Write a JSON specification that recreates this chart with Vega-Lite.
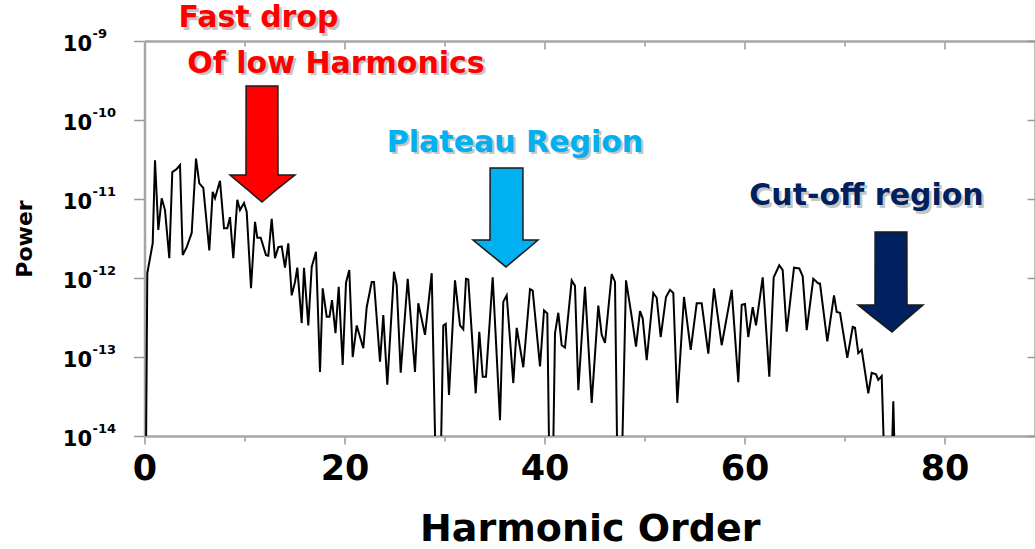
{
  "$schema": "https://vega.github.io/schema/vega-lite/v6.json",
  "width": 890.5,
  "height": 395,
  "autosize": "none",
  "padding": {"left": 144.5, "top": 41, "right": 0, "bottom": 113},
  "background": "white",
  "config": {"view": {"stroke": null}, "font": "DejaVu Sans"},
  "resolve": {"axis": {"x": "independent", "y": "independent"}},
  "datasets": {
    "spectrum": [
      {"h": 0.05, "p": 1e-16}, {"h": 0.28, "p": 1.15e-12}, {"h": 0.82, "p": 2.75e-12}, {"h": 1.05, "p": 3.09e-11},
      {"h": 1.38, "p": 4.07e-12}, {"h": 1.72, "p": 1.02e-11}, {"h": 2.05, "p": 7.24e-12}, {"h": 2.48, "p": 1.78e-12},
      {"h": 2.78, "p": 2.19e-11}, {"h": 3.22, "p": 2.40e-11}, {"h": 3.55, "p": 2.69e-11}, {"h": 3.82, "p": 1.95e-12},
      {"h": 4.22, "p": 2.46e-12}, {"h": 4.72, "p": 3.72e-12}, {"h": 5.15, "p": 3.24e-11}, {"h": 5.48, "p": 1.58e-11},
      {"h": 5.88, "p": 1.38e-11}, {"h": 6.48, "p": 2.24e-12}, {"h": 6.82, "p": 1.23e-11}, {"h": 7.05, "p": 1.02e-11},
      {"h": 7.55, "p": 1.70e-11}, {"h": 7.95, "p": 4.27e-12}, {"h": 8.28, "p": 4.27e-12}, {"h": 8.55, "p": 5.89e-12},
      {"h": 8.88, "p": 1.78e-12}, {"h": 9.28, "p": 9.77e-12}, {"h": 9.55, "p": 7.24e-12}, {"h": 9.95, "p": 8.91e-12},
      {"h": 10.22, "p": 6.92e-12}, {"h": 10.65, "p": 7.41e-13}, {"h": 11.05, "p": 5.13e-12}, {"h": 11.28, "p": 3.24e-12},
      {"h": 11.62, "p": 3.24e-12}, {"h": 12.15, "p": 1.95e-12}, {"h": 12.38, "p": 1.91e-12}, {"h": 12.72, "p": 5.62e-12},
      {"h": 13.05, "p": 1.78e-12}, {"h": 13.38, "p": 2.46e-12}, {"h": 13.72, "p": 2.51e-12}, {"h": 14.05, "p": 1.35e-12},
      {"h": 14.38, "p": 2.75e-12}, {"h": 14.72, "p": 6.03e-13}, {"h": 15.05, "p": 8.91e-13}, {"h": 15.28, "p": 1.35e-12},
      {"h": 15.72, "p": 2.69e-13}, {"h": 15.95, "p": 1.35e-12}, {"h": 16.38, "p": 2.51e-13}, {"h": 16.72, "p": 1.38e-12},
      {"h": 17.15, "p": 2.14e-12}, {"h": 17.55, "p": 6.46e-14}, {"h": 17.82, "p": 7.41e-13}, {"h": 18.22, "p": 3.24e-13},
      {"h": 18.5, "p": 3.24e-13}, {"h": 18.75, "p": 5.25e-13}, {"h": 19.1, "p": 2.00e-13}, {"h": 19.42, "p": 7.76e-13},
      {"h": 19.82, "p": 7.94e-14}, {"h": 20.15, "p": 8.71e-13}, {"h": 20.48, "p": 1.26e-12}, {"h": 20.82, "p": 1.00e-13},
      {"h": 21.22, "p": 2.51e-13}, {"h": 21.88, "p": 1.29e-13}, {"h": 22.22, "p": 4.27e-13}, {"h": 22.72, "p": 8.91e-13},
      {"h": 22.95, "p": 8.91e-13}, {"h": 23.55, "p": 8.71e-14}, {"h": 23.88, "p": 3.39e-13}, {"h": 24.28, "p": 4.47e-14},
      {"h": 24.95, "p": 1.20e-12}, {"h": 25.22, "p": 8.13e-13}, {"h": 25.62, "p": 6.31e-14}, {"h": 26.32, "p": 9.77e-13},
      {"h": 27.05, "p": 6.46e-14}, {"h": 27.38, "p": 4.79e-13}, {"h": 28.05, "p": 1.91e-13}, {"h": 28.72, "p": 1.15e-12},
      {"h": 29.38, "p": 1e-16}, {"h": 29.88, "p": 2.51e-13}, {"h": 30.12, "p": 2.63e-13}, {"h": 30.45, "p": 3.31e-14},
      {"h": 31.05, "p": 9.33e-13}, {"h": 31.55, "p": 2.51e-13}, {"h": 31.88, "p": 2.24e-13}, {"h": 32.15, "p": 9.77e-13},
      {"h": 32.38, "p": 9.55e-13}, {"h": 33.12, "p": 3.47e-14}, {"h": 33.48, "p": 2.09e-13}, {"h": 33.82, "p": 5.62e-14},
      {"h": 34.15, "p": 5.62e-14}, {"h": 34.82, "p": 1.02e-12}, {"h": 35.55, "p": 1.58e-14}, {"h": 35.88, "p": 5.01e-13},
      {"h": 36.22, "p": 6.03e-13}, {"h": 36.88, "p": 4.68e-14}, {"h": 37.22, "p": 2.34e-13}, {"h": 37.88, "p": 7.41e-14},
      {"h": 38.55, "p": 7.24e-13}, {"h": 38.82, "p": 6.92e-13}, {"h": 39.55, "p": 7.59e-14}, {"h": 39.95, "p": 3.89e-13},
      {"h": 40.28, "p": 3.55e-13}, {"h": 40.65, "p": 1e-16}, {"h": 41.05, "p": 2.00e-13}, {"h": 41.38, "p": 3.63e-13},
      {"h": 41.72, "p": 1.41e-13}, {"h": 42.05, "p": 1.32e-13}, {"h": 42.72, "p": 9.33e-13}, {"h": 43.05, "p": 7.94e-13},
      {"h": 43.38, "p": 3.80e-14}, {"h": 44.05, "p": 7.76e-13}, {"h": 44.72, "p": 2.63e-14}, {"h": 45.38, "p": 4.47e-13},
      {"h": 45.72, "p": 1.91e-13}, {"h": 46.05, "p": 1.51e-13}, {"h": 46.72, "p": 1.12e-12}, {"h": 47.05, "p": 8.91e-13},
      {"h": 47.45, "p": 1e-16}, {"h": 48.15, "p": 9.33e-13}, {"h": 48.72, "p": 3.24e-13}, {"h": 49.15, "p": 1.35e-13},
      {"h": 49.55, "p": 3.80e-13}, {"h": 49.82, "p": 3.09e-13}, {"h": 50.22, "p": 9.12e-14}, {"h": 50.88, "p": 6.46e-13},
      {"h": 51.22, "p": 5.62e-13}, {"h": 51.62, "p": 1.78e-13}, {"h": 52.15, "p": 5.75e-13}, {"h": 52.55, "p": 7.08e-13},
      {"h": 52.88, "p": 6.46e-13}, {"h": 53.28, "p": 2.63e-14}, {"h": 53.95, "p": 5.75e-13}, {"h": 54.62, "p": 1.23e-13},
      {"h": 55.22, "p": 4.79e-13}, {"h": 55.72, "p": 4.79e-13}, {"h": 56.38, "p": 1.10e-13}, {"h": 56.95, "p": 7.41e-13},
      {"h": 57.72, "p": 1.41e-13}, {"h": 58.72, "p": 7.08e-13}, {"h": 59.38, "p": 4.79e-14}, {"h": 59.72, "p": 4.57e-13},
      {"h": 60.05, "p": 4.68e-13}, {"h": 60.38, "p": 1.78e-13}, {"h": 60.82, "p": 4.27e-13}, {"h": 61.15, "p": 2.51e-13},
      {"h": 61.82, "p": 1.02e-12}, {"h": 62.48, "p": 5.62e-14}, {"h": 62.92, "p": 1.02e-12}, {"h": 63.48, "p": 1.45e-12},
      {"h": 63.82, "p": 1.26e-12}, {"h": 64.22, "p": 2.09e-13}, {"h": 64.95, "p": 1.35e-12}, {"h": 65.48, "p": 1.32e-12},
      {"h": 65.82, "p": 1.05e-12}, {"h": 66.22, "p": 2.19e-13}, {"h": 66.88, "p": 9.77e-13}, {"h": 67.38, "p": 8.51e-13},
      {"h": 67.55, "p": 8.51e-13}, {"h": 68.28, "p": 1.58e-13}, {"h": 68.95, "p": 6.03e-13}, {"h": 69.22, "p": 3.72e-13},
      {"h": 69.55, "p": 3.63e-13}, {"h": 70.28, "p": 9.77e-14}, {"h": 70.82, "p": 2.40e-13}, {"h": 71.05, "p": 2.34e-13},
      {"h": 71.38, "p": 1.12e-13}, {"h": 71.72, "p": 1.23e-13}, {"h": 72.38, "p": 3.47e-14}, {"h": 72.72, "p": 6.31e-14},
      {"h": 73.15, "p": 6.03e-14}, {"h": 73.38, "p": 5.13e-14}, {"h": 73.72, "p": 5.75e-14}, {"h": 74.38, "p": 1e-16},
      {"h": 74.88, "p": 2.75e-14}, {"h": 75.38, "p": 1e-16}
    ],
    "arrows": [
      {"a": "red", "h": 8.55, "y": 2.01e-11, "y2": 2.01e-11},
      {"a": "red", "h": 10.15, "y": 2.01e-11, "y2": 1.36e-11},
      {"a": "red", "h": 10.16, "y": 2.69e-10, "y2": 1.36e-11},
      {"a": "red", "h": 11.75, "y": 2.69e-10, "y2": 9.16e-12},
      {"a": "red", "h": 13.34, "y": 2.69e-10, "y2": 1.36e-11},
      {"a": "red", "h": 13.35, "y": 2.01e-11, "y2": 1.36e-11},
      {"a": "red", "h": 15.05, "y": 2.01e-11, "y2": 2.01e-11},
      {"a": "blue", "h": 32.85, "y": 3.03e-12, "y2": 3.03e-12},
      {"a": "blue", "h": 34.55, "y": 3.03e-12, "y2": 2.02e-12},
      {"a": "blue", "h": 34.56, "y": 2.47e-11, "y2": 2.02e-12},
      {"a": "blue", "h": 36.15, "y": 2.47e-11, "y2": 1.38e-12},
      {"a": "blue", "h": 37.84, "y": 2.47e-11, "y2": 2.09e-12},
      {"a": "blue", "h": 37.85, "y": 3.03e-12, "y2": 2.09e-12},
      {"a": "blue", "h": 39.35, "y": 3.03e-12, "y2": 3.03e-12},
      {"a": "navy", "h": 71.35, "y": 4.55e-13, "y2": 4.55e-13},
      {"a": "navy", "h": 73.05, "y": 4.55e-13, "y2": 3.06e-13},
      {"a": "navy", "h": 73.06, "y": 3.82e-12, "y2": 3.06e-13},
      {"a": "navy", "h": 74.75, "y": 3.82e-12, "y2": 2.07e-13},
      {"a": "navy", "h": 76.24, "y": 3.82e-12, "y2": 3.06e-13},
      {"a": "navy", "h": 76.25, "y": 4.55e-13, "y2": 3.06e-13},
      {"a": "navy", "h": 77.85, "y": 4.55e-13, "y2": 4.55e-13}
    ],
    "notes": [
      {"a": "red", "t": "Fast drop", "h": 11.4, "y": 1.50e-9},
      {"a": "red", "t": "Of low Harmonics", "h": 19.15, "y": 3.94e-10},
      {"a": "blue", "t": "Plateau Region", "h": 37.05, "y": 3.97e-11},
      {"a": "navy", "t": "Cut-off region", "h": 72.2, "y": 8.39e-12}
    ],
    "yticks": [
      {"p": 1e-9, "e": "-9"}, {"p": 1e-10, "e": "-10"}, {"p": 1e-11, "e": "-11"},
      {"p": 1e-12, "e": "-12"}, {"p": 1e-13, "e": "-13"}, {"p": 1e-14, "e": "-14"}
    ]
  },
  "layer": [
    {
      "data": {"name": "spectrum"},
      "mark": {"type": "line", "color": "#000000", "strokeWidth": 2, "clip": true},
      "encoding": {
        "x": {
          "field": "h", "type": "quantitative",
          "scale": {"domain": [0, 89.05], "nice": false, "zero": false},
          "axis": {
            "orient": "bottom", "values": [0, 10, 20, 30, 40, 50, 60, 70, 80],
            "labelExpr": "datum.value % 20 === 0 ? datum.label : ''",
            "labelFont": "DejaVu Sans", "labelFontWeight": "bold", "labelFontSize": 35, "labelColor": "#000000",
            "labelPadding": 7, "labelFlush": false, "labelOverlap": false,
            "tickSize": {"condition": {"test": "datum.value % 20 === 0", "value": 8}, "value": 5},
            "tickColor": "#999999", "tickWidth": 1.5, "domainColor": "#a6a6a6", "domainWidth": 2.5, "grid": false,
            "title": "Harmonic Order", "titleFont": "DejaVu Sans", "titleFontSize": 38, "titleFontWeight": "bold",
            "titleColor": "#000000", "titlePadding": 24
          }
        },
        "y": {
          "field": "p", "type": "quantitative",
          "scale": {"type": "log", "domain": [1e-14, 1e-9], "nice": false},
          "axis": {
            "orient": "left", "values": [1e-14, 1e-13, 1e-12, 1e-11, 1e-10, 1e-9], "labels": false,
            "tickSize": 11, "tickColor": "#999999", "tickWidth": 1.5, "domainColor": "#a6a6a6", "domainWidth": 2.5, "grid": false,
            "title": "Power", "titleFont": "DejaVu Sans", "titleFontSize": 22, "titleFontWeight": "bold",
            "titleColor": "#000000", "titlePadding": 96
          }
        }
      }
    },
    {
      "data": {"name": "spectrum"},
      "mark": {"type": "line", "opacity": 0},
      "encoding": {
        "x": {
          "field": "h", "type": "quantitative",
          "axis": {
            "orient": "top", "values": [0, 10, 20, 30, 40, 50, 60, 70, 80], "labels": false, "title": null,
            "tickSize": {"condition": {"test": "datum.value % 20 === 0", "value": -8}, "value": -5},
            "tickColor": "#999999", "tickWidth": 1.5, "domainColor": "#a6a6a6", "domainWidth": 2.5, "grid": false
          }
        },
        "y": {
          "field": "p", "type": "quantitative",
          "axis": {
            "orient": "right", "values": [1e-14, 1e-13, 1e-12, 1e-11, 1e-10, 1e-9], "labels": false, "title": null,
            "tickSize": -8, "tickColor": "#999999", "tickWidth": 1.5, "domainColor": "#a6a6a6", "domainWidth": 2.5, "grid": false
          }
        }
      }
    },
    {
      "data": {"name": "arrows"},
      "mark": {"type": "area", "orient": "vertical", "stroke": "#1a1a1a", "strokeWidth": 1.5, "strokeJoin": "miter", "opacity": 1},
      "encoding": {
        "x": {"field": "h", "type": "quantitative", "axis": null},
        "y": {"field": "y", "type": "quantitative", "stack": null, "axis": null},
        "y2": {"field": "y2"},
        "color": {
          "field": "a", "type": "nominal", "legend": null,
          "scale": {"domain": ["red", "blue", "navy"], "range": ["#ff0000", "#00b0f0", "#002060"]}
        }
      }
    },
    {
      "data": {"name": "notes"},
      "mark": {"type": "text", "font": "DejaVu Sans", "fontWeight": "bold", "fontSize": 30, "align": "center", "baseline": "alphabetic", "dx": 2.5, "dy": 2.5, "color": "#808080", "opacity": 0.45},
      "encoding": {
        "x": {"field": "h", "type": "quantitative", "axis": null},
        "y": {"field": "y", "type": "quantitative", "axis": null},
        "text": {"field": "t"}
      }
    },
    {
      "data": {"name": "notes"},
      "mark": {"type": "text", "font": "DejaVu Sans", "fontWeight": "bold", "fontSize": 30, "align": "center", "baseline": "alphabetic"},
      "encoding": {
        "x": {"field": "h", "type": "quantitative", "axis": null},
        "y": {"field": "y", "type": "quantitative", "axis": null},
        "text": {"field": "t"},
        "color": {"field": "a", "type": "nominal", "legend": null}
      }
    },
    {
      "data": {"name": "yticks"},
      "mark": {"type": "text", "font": "DejaVu Sans", "fontWeight": "bold", "fontSize": 21, "align": "right", "baseline": "middle", "dx": -52.5, "dy": 4, "color": "#000000"},
      "encoding": {
        "x": {"datum": 0, "type": "quantitative", "axis": null},
        "y": {"field": "p", "type": "quantitative", "axis": null},
        "text": {"value": "10"}
      }
    },
    {
      "data": {"name": "yticks"},
      "mark": {"type": "text", "font": "DejaVu Sans", "fontWeight": "bold", "fontSize": 13, "align": "left", "baseline": "middle", "dx": -52, "dy": -7, "color": "#000000"},
      "encoding": {
        "x": {"datum": 0, "type": "quantitative", "axis": null},
        "y": {"field": "p", "type": "quantitative", "axis": null},
        "text": {"field": "e"}
      }
    }
  ]
}
